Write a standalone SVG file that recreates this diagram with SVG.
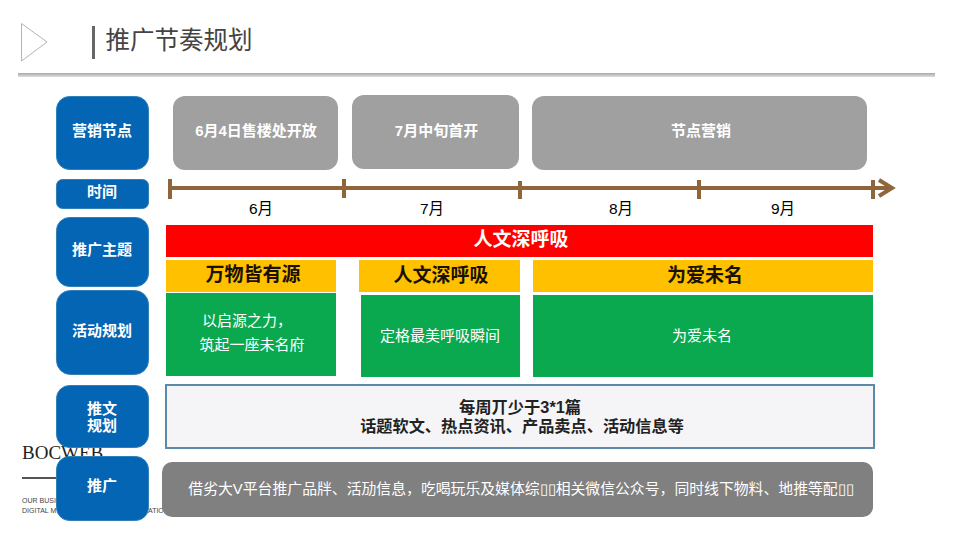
<svg xmlns="http://www.w3.org/2000/svg" width="960" height="540" viewBox="0 0 960 540">
<defs>
<linearGradient id="rule" x1="0" y1="0" x2="0" y2="1"><stop offset="0" stop-color="#a8a8a8"/><stop offset="1" stop-color="#dedede"/></linearGradient>
</defs>
<style>
text{font-family:"Liberation Sans","Noto Sans CJK SC",sans-serif;text-anchor:middle}
.blue{fill:#0465b4;stroke:#2f7fb8;stroke-width:1}
.bt{fill:#fff;font-size:15px;font-weight:700}
.gray{fill:#a0a0a0}
.gt{fill:#fff;font-size:15px;font-weight:700}
.month{fill:#000;font-size:15.500px}
.yel{fill:#ffc000}
.yt{fill:#1a1000;font-size:19px;font-weight:700}
.grn{fill:#0aa84f}
.wt{fill:#fff;font-size:15px}
.axis{stroke:#8f6539;stroke-width:4;fill:none}
.logo{fill:#444;font-size:7px;text-anchor:start}
</style>
<rect width="960" height="540" fill="#fff"/>
<g id="header">
<path d="M21.500 23.500L47 42L21.500 61Z" fill="#fff" stroke="#b4b4b4" stroke-width="1"/>
<rect x="92" y="26" width="3" height="33" fill="#666"/>
<text x="179" y="49" style="font-size:24.500px;fill:#444;font-weight:400">推广节奏规划</text>
<rect x="18" y="73" width="917" height="4" fill="url(#rule)"/>
</g>
<g id="logo">
<text x="22" y="459" style="font-family:'Liberation Serif',serif;font-size:19px;fill:#222;text-anchor:start">BOCWEB</text>
<rect x="22" y="477" width="45" height="2" fill="#555"/>
<text class="logo" x="22" y="503">OUR BUSI</text>
<text class="logo" x="22" y="513">DIGITAL M</text>
<text class="logo" x="148" y="513">ATIO</text>
</g>
<g id="node-yingxiao"><rect class="blue" x="56.500" y="96.500" width="92" height="73" rx="13"/><text class="bt" x="102" y="136">营销节点</text></g>
<g id="node-shijian"><rect class="blue" x="56.500" y="179.500" width="92" height="29" rx="6"/><text class="bt" x="102" y="197">时间</text></g>
<g id="node-zhuti"><rect class="blue" x="56.500" y="217.500" width="92" height="69" rx="13"/><text class="bt" x="102" y="255">推广主题</text></g>
<g id="node-huodong"><rect class="blue" x="56.500" y="290.500" width="92" height="84" rx="14"/><text class="bt" x="102" y="336">活动规划</text></g>
<g id="node-tuiwen"><rect class="blue" x="56.500" y="385.500" width="92" height="62" rx="13"/><text class="bt" x="102" y="414">推文</text><text class="bt" x="102" y="431">规划</text></g>
<g id="node-tuiguang"><rect class="blue" x="56.500" y="456.500" width="92" height="64" rx="13"/><text class="bt" x="102" y="491">推广</text></g>
<g id="node-g1"><rect class="gray" x="173" y="96" width="165" height="74" rx="12"/><text class="gt" x="256" y="136">6月4日售楼处开放</text></g>
<g id="node-g2"><rect class="gray" x="352" y="95" width="167" height="74" rx="12"/><text class="gt" x="436.500" y="136">7月中旬首开</text></g>
<g id="node-g3"><rect class="gray" x="532" y="96" width="335" height="74" rx="12"/><text class="gt" x="701" y="136">节点营销</text></g>
<g id="connectors">
<path class="axis" d="M170 188H889"/>
<path class="axis" d="M170 179V199M344 179V198M520 181V199M699 180V199M873 180V199"/>
<path d="M879 180L892 188L879 196" fill="none" stroke="#8f6539" stroke-width="4"/>
</g>
<g id="months">
<text class="month" x="261" y="214">6月</text><text class="month" x="432" y="214">7月</text><text class="month" x="621" y="214">8月</text><text class="month" x="783" y="214">9月</text>
</g>
<g id="node-red"><rect x="166" y="225" width="707" height="32" fill="#f00"/><text x="521" y="246" style="fill:#fff;font-size:19px;font-weight:700">人文深呼吸</text></g>
<g id="node-y1"><rect class="yel" x="166" y="260" width="170" height="32"/><text class="yt" x="253" y="281">万物皆有源</text></g>
<g id="node-y2"><rect class="yel" x="359" y="260" width="161" height="32"/><text class="yt" x="441" y="282">人文深呼吸</text></g>
<g id="node-y3"><rect class="yel" x="533" y="260" width="340" height="32"/><text class="yt" x="705" y="282">为爱未名</text></g>
<g id="node-a1"><rect class="grn" x="166" y="293" width="170" height="83"/><text class="wt" x="247" y="326">以启源之力，</text><text class="wt" x="252" y="350">筑起一座未名府</text></g>
<g id="node-a2"><rect class="grn" x="361" y="295" width="159" height="82"/><text class="wt" x="440" y="341">定格最美呼吸瞬间</text></g>
<g id="node-a3"><rect class="grn" x="533" y="295" width="340" height="82"/><text class="wt" x="702" y="341">为爱未名</text></g>
<g id="node-post"><rect x="166" y="385" width="708" height="63" fill="#f5f5f7" stroke="#5b8aa8" stroke-width="2"/><text x="520" y="413" style="fill:#222;font-size:16.300px;font-weight:700">每周丌少于3*1篇</text><text x="522" y="432" style="fill:#222;font-size:16.200px;font-weight:700">话题软文、热点资讯、产品卖点、活动信息等</text></g>
<g id="node-promo"><rect x="162" y="462" width="711" height="55" rx="10" fill="#808080"/><text x="521" y="494" style="fill:#fff;font-size:14.850px">借劣大V平台推广品牉、活劢信息，吃喝玩乐及媒体综▯▯相关微信公众号，同时线下物料、地推等配▯▯</text></g>
</svg>
